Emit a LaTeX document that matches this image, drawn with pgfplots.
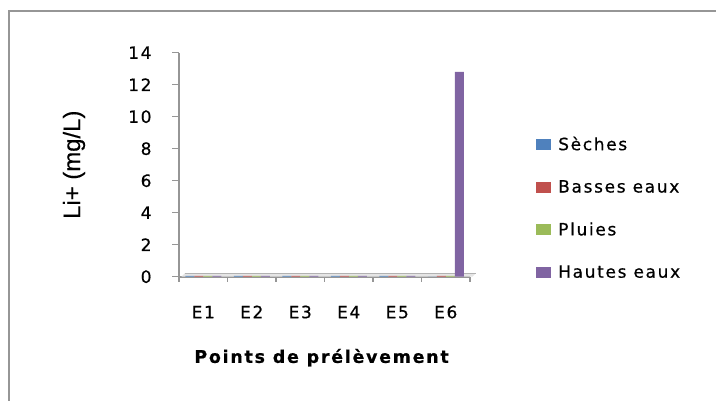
\documentclass[border=0pt]{standalone}
\usepackage{fontspec}
\setmainfont{DejaVu Sans}[LetterSpace=10, FakeBold=0.6]
\newfontfamily\arialfont{Liberation Sans}[FakeBold=0.4]
\usepackage{pgfplots}
\pgfplotsset{compat=1.18}
\definecolor{cA}{HTML}{4F81BD}
\definecolor{cB}{HTML}{C0504D}
\definecolor{cC}{HTML}{9BBB59}
\definecolor{cD}{HTML}{8064A2}
\definecolor{axgray}{RGB}{150,150,150}
\begin{document}
\begin{tikzpicture}
\useasboundingbox (0,0) rectangle (716bp,401bp);
\draw[axgray, line width=2.2bp] (9bp,0bp) -- (9bp,390bp) -- (716bp,390bp);
\begin{axis}[
  at={(179bp,124.3bp)}, anchor=south west,
  scale only axis, width=291bp, height=224bp,
  ymin=0, ymax=14, ytick={0,2,...,14},
  xmin=-0.5, xmax=5.5,
  xtick={0,...,5}, xticklabels={E1,E2,E3,E4,E5,E6},
  minor xtick={-0.5,0.5,...,5.5},
  axis x line*=bottom, axis y line*=left,
  axis line style={axgray, line width=1.6bp, -},
  tick align=outside,
  major x tick style={draw=none},
  minor x tick style={axgray, line width=1.6bp},
  minor tick length=5bp,
  major y tick style={axgray, line width=1.2bp},
  major tick length=7bp,
  /pgf/number format/assume math mode=true,
  yticklabel style={font=\fontsize{17}{17}\selectfont, xshift=-17bp},
  xticklabel style={font=\fontsize{17}{17}\selectfont, anchor=north, text height=12bp, text depth=0pt, yshift=-19bp},
  ylabel={\arialfont Li+ (mg/L)},
  every axis y label/.style={at={(axis description cs:-0.361,0.5)}, rotate=90, anchor=center, font=\fontsize{24}{24}\selectfont},
  xlabel={Points de prélèvement},
  every axis x label/.style={at={(axis description cs:0.49,0)}, anchor=center, yshift=-81bp, font=\fontsize{17.5}{17.5}\selectfont\bfseries},
  ybar=0pt, bar width=9bp,
  legend style={at={(axis description cs:1.227,0.635)}, anchor=north west, draw=none, fill=none,
    font=\fontsize{17}{17}\selectfont, row sep=24.5bp, inner sep=0pt,
    nodes={inner xsep=7bp}},
  legend cell align=left,
  legend image code/.code={\fill[#1,draw=none] (0bp,-5.5bp) rectangle (15bp,5.5bp);},
  clip=false,
]
\fill[gray!20] (axis cs:-0.45,0) -- (axis cs:5.55,0) -- (axis cs:5.62,0.22) -- (axis cs:-0.38,0.22) -- cycle;
\draw[gray!60, line width=0.8bp] (axis cs:-0.38,0.22) -- (axis cs:5.62,0.22);
\addplot[fill=cA, draw=none] coordinates {(0,0.05) (1,0.05) (2,0.05) (3,0.05) (4,0.05) (5,0)};
\addplot[fill=cB, draw=none] coordinates {(0,0.05) (1,0.05) (2,0.05) (3,0.05) (4,0.05) (5,0.05)};
\addplot[fill=cC, draw=none] coordinates {(0,0.05) (1,0.05) (2,0.05) (3,0.05) (4,0.05) (5,0.05)};
\addplot[fill=cD, draw=none] coordinates {(0,0.05) (1,0.05) (2,0.05) (3,0.05) (4,0.05) (5,12.8)};
\legend{Sèches,Basses eaux,Pluies,Hautes eaux}
\end{axis}
\end{tikzpicture}
\end{document}
